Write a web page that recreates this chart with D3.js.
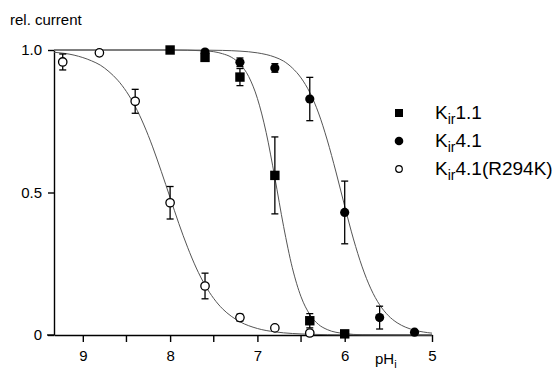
<!DOCTYPE html>
<html lang="en">
<head>
<meta charset="utf-8">
<title>rel. current vs pHi</title>
<script src="https://d3js.org/d3.v7.min.js"></script>
<style>
  body { margin: 0; background: #fff; }
  text { font-family: "Liberation Sans", Arial, Helvetica, sans-serif; fill: #000; }
  .axis path, .axis line { stroke: #000; stroke-width: 1.4; fill: none; }
  .axis text { font-size: 15px; }
</style>
</head>
<body>
<script>
// measured points (pH_i, relative current, error)
var kir11PH  = [8.0, 7.6, 7.2, 6.8, 6.4, 6.0];
var kir11Rel = [1.0, 0.974, 0.905, 0.56, 0.05, 0.004];
var kir11Err = [0, 0, 0.03, 0.135, 0.025, 0];

var kir41PH  = [7.6, 7.2, 6.8, 6.4, 6.0, 5.6, 5.2];
var kir41Rel = [0.993, 0.957, 0.937, 0.828, 0.43, 0.061, 0.01];
var kir41Err = [0, 0.015, 0.015, 0.076, 0.11, 0.04, 0];

var mutPH  = [9.23, 8.81, 8.4, 8.0, 7.6, 7.2, 6.8, 6.4];
var mutRel = [0.958, 0.99, 0.82, 0.464, 0.172, 0.061, 0.025, 0.007];
var mutErr = [0.028, 0, 0.042, 0.057, 0.045, 0.012, 0, 0];

// fitted curves
var kir11FitPH  = [9.33, 8.0, 7.6, 7.4, 7.3, 7.2, 7.1, 7.0, 6.9, 6.8, 6.7, 6.6, 6.5, 6.4, 6.3, 6.2, 6.0, 5.8, 5.0];
var kir11FitRel = [1.0, 1.0, 0.997, 0.987, 0.975, 0.951, 0.907, 0.830, 0.711, 0.552, 0.381, 0.236, 0.134, 0.072, 0.037, 0.019, 0.005, 0.001, 0];

var kir41FitPH  = [9.33, 8.0, 7.6, 7.4, 7.2, 7.0, 6.8, 6.7, 6.6, 6.5, 6.4, 6.3, 6.2, 6.1, 6.0, 5.9, 5.8, 5.7, 5.6, 5.5, 5.4, 5.3, 5.2, 5.0];
var kir41FitRel = [1.0, 1.0, 0.9995, 0.9986, 0.996, 0.990, 0.975, 0.961, 0.937, 0.902, 0.851, 0.779, 0.684, 0.572, 0.452, 0.337, 0.239, 0.162, 0.106, 0.068, 0.043, 0.027, 0.017, 0.0065];

var mutFitPH  = [9.33, 9.1, 8.9, 8.8, 8.7, 8.6, 8.5, 8.4, 8.3, 8.2, 8.1, 8.0, 7.9, 7.8, 7.7, 7.6, 7.5, 7.4, 7.3, 7.2, 7.0, 6.8, 6.6, 6.4, 6.0, 5.0];
var mutFitRel = [0.992, 0.982, 0.962, 0.947, 0.924, 0.894, 0.854, 0.802, 0.737, 0.660, 0.573, 0.482, 0.391, 0.308, 0.235, 0.175, 0.128, 0.092, 0.066, 0.0465, 0.0228, 0.011, 0.0053, 0.0026, 0.0006, 0];

var xTicks = [9, 8, 7, 6, 5];
var xMinorTicks = [8.5, 7.5, 6.5];
var yTicks = [0, 0.5, 1.0];
var yTickLabels = ["0", "0.5", "1.0"];

var legendNames = ["1.1", "4.1", "4.1(R294K)"];

var W = 554, H = 370;
var svg = d3.select("body").append("svg")
  .attr("width", W).attr("height", H);

var x = d3.scaleLinear().domain([9.33, 5]).range([54, 432]);
var y = d3.scaleLinear().domain([0, 1]).range([335, 50]);

// axes
var yAxis = d3.axisLeft(y).tickValues(yTicks).tickSize(6).tickSizeOuter(0)
  .tickFormat(function(d, i) { return yTickLabels[i]; });
svg.append("g").attr("class", "axis")
  .attr("transform", "translate(" + x(9.33) + ",0)")
  .call(yAxis)
  .selectAll("text").attr("dx", "-3");

var xAxisG = svg.append("g").attr("class", "axis")
  .attr("transform", "translate(0," + y(0) + ")")
  .call(d3.axisBottom(x).tickValues(xTicks).tickSize(7).tickSizeOuter(0).tickFormat(d3.format("d")));
xAxisG.selectAll("text").attr("dy", "1.05em");
xAxisG.selectAll(".minor").data(xMinorTicks).enter().append("line")
  .attr("class", "minor")
  .attr("x1", function(d) { return x(d); }).attr("x2", function(d) { return x(d); })
  .attr("y1", 0).attr("y2", 7);
// axis line runs a little past the y axis
xAxisG.append("line").attr("x1", x(9.33) - 7).attr("x2", x(9.33)).attr("y1", 0).attr("y2", 0);

// axis titles
svg.append("text").attr("x", 10).attr("y", 25).style("font-size", "15px").text("rel. current");
var phLabel = svg.append("text").attr("x", 375).attr("y", 364).style("font-size", "15px");
phLabel.append("tspan").text("pH");
phLabel.append("tspan").attr("dy", 4).style("font-size", "11px").text("i");

// fit curves
var line = d3.line()
  .x(function(d) { return x(d[0]); })
  .y(function(d) { return y(d[1]); })
  .curve(d3.curveMonotoneX);

[[kir11FitPH, kir11FitRel], [kir41FitPH, kir41FitRel], [mutFitPH, mutFitRel]].forEach(function(c) {
  svg.append("path")
    .datum(d3.zip(c[0], c[1]))
    .attr("d", line)
    .attr("fill", "none")
    .attr("stroke", "#555")
    .attr("stroke-width", 1);
});

// error bars
function errorBars(ph, rel, err) {
  var data = d3.zip(ph, rel, err).filter(function(d) { return d[2] > 0; });
  var g = svg.append("g").attr("stroke", "#000").attr("stroke-width", 1.3);
  g.selectAll(".v").data(data).enter().append("line")
    .attr("x1", function(d) { return x(d[0]); }).attr("x2", function(d) { return x(d[0]); })
    .attr("y1", function(d) { return y(d[1] + d[2]); }).attr("y2", function(d) { return y(d[1] - d[2]); });
  [1, -1].forEach(function(s) {
    g.selectAll(".c").data(data).enter().append("line")
      .attr("x1", function(d) { return x(d[0]) - 3.5; }).attr("x2", function(d) { return x(d[0]) + 3.5; })
      .attr("y1", function(d) { return y(d[1] + s * d[2]); }).attr("y2", function(d) { return y(d[1] + s * d[2]); });
  });
}
errorBars(mutPH, mutRel, mutErr);
errorBars(kir11PH, kir11Rel, kir11Err);
errorBars(kir41PH, kir41Rel, kir41Err);

// markers
svg.selectAll(".sq").data(d3.zip(kir11PH, kir11Rel)).enter().append("rect")
  .attr("x", function(d) { return x(d[0]) - 4.7; })
  .attr("y", function(d) { return y(d[1]) - 4.7; })
  .attr("width", 9.4).attr("height", 9.4).attr("fill", "#000");

svg.selectAll(".fc").data(d3.zip(kir41PH, kir41Rel)).enter().append("circle")
  .attr("cx", function(d) { return x(d[0]); })
  .attr("cy", function(d) { return y(d[1]); })
  .attr("r", 4.6).attr("fill", "#000");

svg.selectAll(".oc").data(d3.zip(mutPH, mutRel)).enter().append("circle")
  .attr("cx", function(d) { return x(d[0]); })
  .attr("cy", function(d) { return y(d[1]); })
  .attr("r", 4.2).attr("fill", "#fff").attr("stroke", "#000").attr("stroke-width", 1.3);

// legend
var legend = svg.append("g").attr("transform", "translate(399,113)");
legend.append("rect").attr("x", -4).attr("y", -4).attr("width", 8).attr("height", 8).attr("fill", "#000");
legend.append("circle").attr("cx", 0).attr("cy", 28).attr("r", 4.3).attr("fill", "#000");
legend.append("circle").attr("cx", 0).attr("cy", 56).attr("r", 3.3).attr("fill", "#fff").attr("stroke", "#000").attr("stroke-width", 1.2);

legendNames.forEach(function(n, i) {
  var t = legend.append("text").attr("x", 36).attr("y", 6 + i * 28).style("font-size", "19px");
  t.append("tspan").text("K");
  t.append("tspan").attr("dy", 5).style("font-size", "14px").text("ir");
  t.append("tspan").attr("dy", -5).text(n);
});
</script>
</body>
</html>
